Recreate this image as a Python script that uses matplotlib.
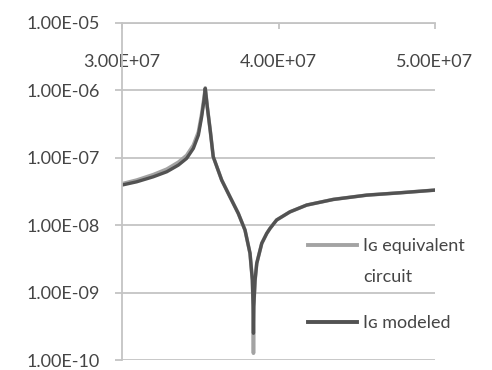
import matplotlib
matplotlib.use("Agg")
import matplotlib.pyplot as plt
from matplotlib.lines import Line2D
from matplotlib.ticker import FixedLocator, FuncFormatter, NullLocator

# Data
freq = [3.000e7, 3.094e7, 3.200e7, 3.286e7, 3.360e7, 3.413e7, 3.456e7, 3.488e7,
        3.509e7, 3.524e7, 3.532e7, 3.545e7, 3.565e7, 3.583e7, 3.637e7, 3.690e7,
        3.743e7, 3.786e7, 3.818e7, 3.833e7, 3.838e7, 3.840e7, 3.842e7, 3.850e7,
        3.861e7, 3.893e7, 3.925e7, 3.946e7, 3.988e7, 4.073e7, 4.180e7, 4.350e7,
        4.564e7, 4.776e7, 5.000e7]
ig_modeled = [3.92e-8, 4.38e-8, 5.20e-8, 6.17e-8, 7.74e-8, 9.73e-8, 1.37e-7, 2.15e-7,
              4.02e-7, 7.11e-7, 1.06e-6, 5.66e-7, 2.39e-7, 1.03e-7, 4.64e-8, 2.62e-8,
              1.49e-8, 8.43e-9, 3.81e-9, 1.53e-9, 6.2e-10, 2.49e-10, 6.2e-10, 1.50e-9,
              2.71e-9, 5.36e-9, 7.53e-9, 8.93e-9, 1.19e-8, 1.57e-8, 1.98e-8, 2.40e-8,
              2.78e-8, 3.01e-8, 3.30e-8]
ig_equivalent = [4.10e-8, 4.65e-8, 5.60e-8, 6.75e-8, 8.55e-8, 1.08e-7, 1.53e-7, 2.40e-7,
                 4.45e-7, 7.70e-7, 1.08e-6, 5.66e-7, 2.39e-7, 1.03e-7, 4.64e-8, 2.62e-8,
                 1.49e-8, 8.43e-9, 3.81e-9, 1.53e-9, 6.2e-10, 1.26e-10, 6.2e-10, 1.50e-9,
                 2.71e-9, 5.36e-9, 7.53e-9, 8.93e-9, 1.19e-8, 1.57e-8, 1.98e-8, 2.40e-8,
                 2.78e-8, 3.01e-8, 3.30e-8]
x_ticks = [3e7, 4e7, 5e7]
y_ticks = [1e-10, 1e-9, 1e-8, 1e-7, 1e-6, 1e-5]
labels = ["I\u0262 equivalent\ncircuit", "I\u0262 modeled"]

plt.rcParams['font.family'] = ['Lato', 'DejaVu Sans']
text_color = '#454545'
grid_color = '#c4c4c4'
light_color = '#a3a3a3'
dark_color = '#525252'
fs = 13

W, H = 492, 370
fig = plt.figure(figsize=(W / 100, H / 100), dpi=100)
ax = fig.add_axes([122 / W, 1 - 360 / H, (435 - 122) / W, (360 - 22.7) / H])

ax.plot(freq, ig_equivalent, color=light_color, lw=2.6)
ax.plot(freq, ig_modeled, color=dark_color, lw=2.4)

ax.set_yscale('log')
ax.set_xlim(3e7, 5e7)
ax.set_ylim(1e-10, 1e-5)
ax.yaxis.set_major_locator(FixedLocator(y_ticks))
ax.yaxis.set_minor_locator(NullLocator())
ax.yaxis.set_major_formatter(FuncFormatter(lambda v, p: f"{v:.2E}"))
ax.xaxis.set_major_locator(FixedLocator(x_ticks))
ax.xaxis.set_major_formatter(FuncFormatter(lambda v, p: f"{v:.2E}"))

ax.grid(axis='y', color=grid_color, lw=1.3)
ax.set_axisbelow(True)
for s in ['right', 'bottom']:
    ax.spines[s].set_visible(False)
for s in ['left', 'top']:
    ax.spines[s].set_color(grid_color)
    ax.spines[s].set_linewidth(1.3)

ax.tick_params(axis='y', colors=grid_color, labelcolor=text_color, labelsize=fs,
               length=5, width=1.3, pad=11)
ax.tick_params(axis='x', top=True, bottom=False, labeltop=True, labelbottom=False,
               direction='in', colors=grid_color, labelcolor=text_color, labelsize=fs,
               length=4, width=1.3, pad=-34)

# Legend (handle aligned with the first text line, as in the reference)
def fx(px):
    return px / W

def fy(py):
    return 1 - py / H

fig.add_artist(Line2D([fx(308), fx(357)], [fy(245), fy(245)], color=light_color, lw=2.8))
fig.add_artist(Line2D([fx(308), fx(357)], [fy(322), fy(322)], color=dark_color, lw=2.8))
first, second = labels[0].split("\n")
fig.text(fx(363), fy(251.5), first, color=text_color, fontsize=fs, va='baseline')
fig.text(fx(363), fy(281.5), second, color=text_color, fontsize=fs, va='baseline')
fig.text(fx(363), fy(328.3), labels[1], color=text_color, fontsize=fs, va='baseline')

fig.savefig('out.png', dpi=100)
